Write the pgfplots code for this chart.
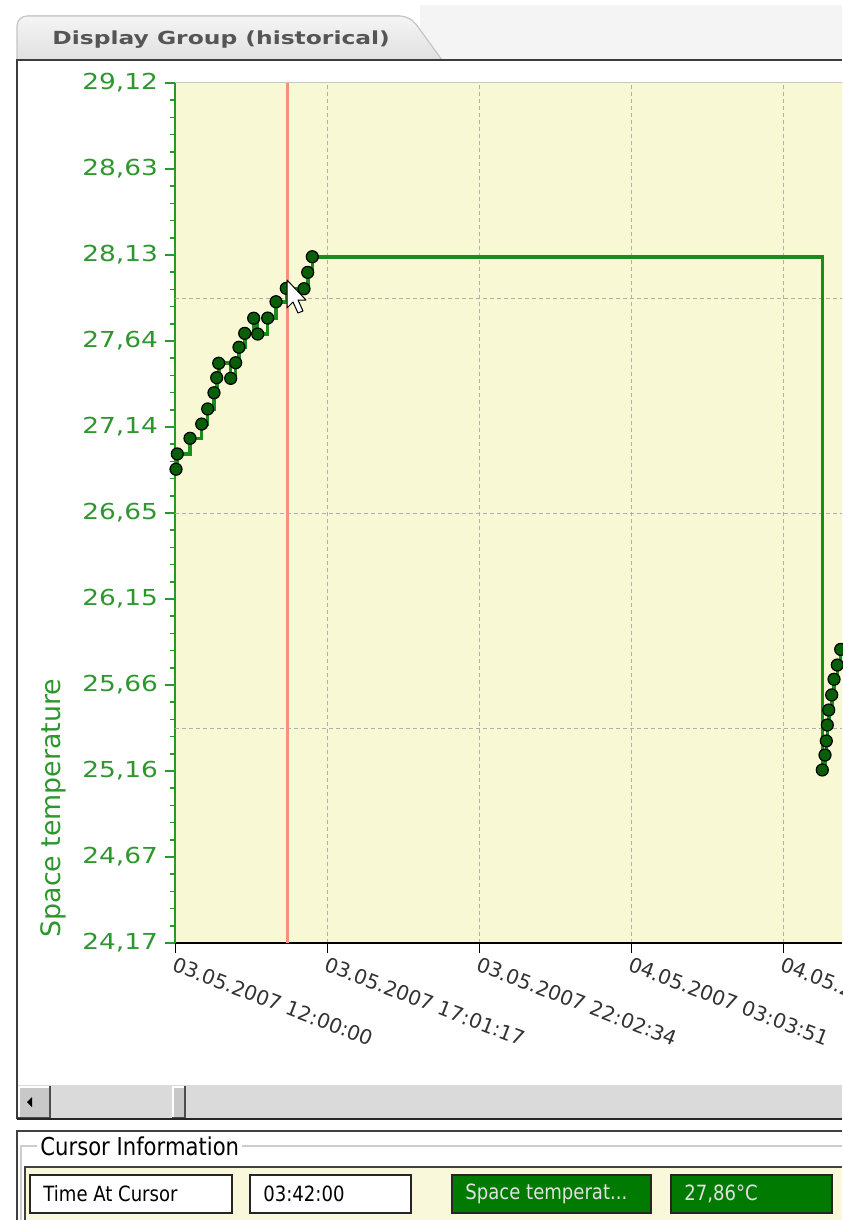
\documentclass[border=0pt]{standalone}
\usepackage{pgfplots}
\pgfplotsset{compat=1.18}
\usepackage{pgfplotstable}
\usepackage{fontspec}
\setmainfont{DejaVu Sans}
\newfontfamily\vfont{DejaVu Sans}[FakeStretch=1.2]
\newfontfamily\tabfont{DejaVu Sans}[FakeStretch=1.3]
\newfontfamily\tfont{DejaVu Sans}[FakeStretch=0.86]
\definecolor{plotbg}{RGB}{249,248,212}
\definecolor{axgreen}{RGB}{45,150,45}
\definecolor{linegreen}{RGB}{28,140,28}
\definecolor{markgreen}{RGB}{8,95,8}
\definecolor{cursorred}{RGB}{245,145,120}
\definecolor{gridgray}{RGB}{175,175,175}
\definecolor{tickgray}{RGB}{50,50,50}
\definecolor{tabtext}{RGB}{85,85,85}
\definecolor{topgray}{RGB}{244,244,244}
\definecolor{panelline}{RGB}{60,60,60}
\definecolor{scrollbg}{RGB}{218,218,218}
\definecolor{btngray}{RGB}{200,200,200}
\definecolor{boxgreen}{RGB}{0,122,0}
\definecolor{boxtext}{RGB}{225,225,225}
\definecolor{innerbg}{RGB}{249,248,218}

\pgfplotstableread{
x y
0.033 26.897
0.076 26.985
0.496 27.075
0.882 27.157
1.080 27.244
1.288 27.337
1.378 27.424
1.444 27.507
1.840 27.420
2.005 27.510
2.114 27.599
2.303 27.679
2.600 27.766
2.732 27.675
3.062 27.767
3.337 27.861
3.677 27.938
4.262 27.936
4.384 28.030
4.536 28.120
21.384 25.166
21.473 25.252
21.516 25.333
21.550 25.425
21.596 25.511
21.695 25.598
21.771 25.688
21.880 25.770
21.992 25.860
}\temps

\begin{document}
\begin{tikzpicture}
\useasboundingbox (0,0) rectangle (421pt,-610pt);
\begin{scope}[x=0.5pt,y=-0.5pt]
  \fill[white] (0,0) rectangle (842,1220);
  \fill[topgray] (420,5) rectangle (842,59);
  \filldraw[top color=white!96!black, bottom color=white!88!black, draw=gray!45, line width=0.6pt]
    [rounded corners=5pt] (17,60) -- (17,16) -- (410,16) [sharp corners] -- (442,60) -- cycle;
  \node[anchor=west, text=tabtext, font=\tabfont\bfseries\fontsize{9}{10}\selectfont, inner sep=0pt] at (52,40) {Display Group (historical)};
  % panel
  \fill[white] (18,61) rectangle (842,1085);
  \draw[panelline, line width=1.1pt] (17,1119) -- (17,60) -- (842,60);
  % scrollbar
  \fill[scrollbg] (18,1085) rectangle (842,1118);
  \fill[btngray] (18,1086) rectangle (50,1118);
  \draw[white, line width=0.6pt] (19,1117) -- (19,1087) -- (49,1087);
  \draw[black!70, line width=0.8pt] (18,1118) -- (50,1118) -- (50,1086);
  \fill[black] (27,1102) -- (32,1097) -- (32,1107) -- cycle;
  \fill[btngray] (172,1086) rectangle (185,1118);
  \draw[white, line width=0.6pt] (173,1117) -- (173,1087) -- (184,1087);
  \draw[black!70, line width=0.8pt] (172,1118) -- (185,1118) -- (185,1086);
  \draw[black!85, line width=1pt] (17,1119) -- (842,1119);
  % cursor information
  \draw[black!75, line width=1pt] (17,1220) -- (17,1131) -- (842,1131);
  \draw[gray!40, line width=0.6pt] (21,1220) -- (21,1146) -- (842,1146);
  \node[fill=white, anchor=west, inner sep=1.5pt, font=\tfont\fontsize{12.3}{13}\selectfont] at (37,1146) {Cursor Information};
  \fill[innerbg] (25,1167) rectangle (842,1220);
  \draw[black!75, line width=0.8pt] (25,1220) -- (25,1167) -- (842,1167);
  \filldraw[fill=white, draw=black!85, line width=0.8pt] (30,1175) rectangle (232,1213);
  \node[anchor=west, inner sep=0pt, font=\tfont\fontsize{10.5}{12}\selectfont] at (43,1194) {Time At Cursor};
  \filldraw[fill=white, draw=black!85, line width=0.8pt] (250,1175) rectangle (411,1213);
  \node[anchor=west, inner sep=0pt, font=\tfont\fontsize{10.5}{12}\selectfont] at (263,1194) {03:42:00};
  \filldraw[fill=boxgreen, draw=black!85, line width=0.8pt] (452,1175) rectangle (651,1213);
  \node[anchor=west, inner sep=0pt, text=boxtext, font=\tfont\fontsize{10.5}{12}\selectfont] at (465,1194) {Space temperat...};
  \filldraw[fill=boxgreen, draw=black!85, line width=0.8pt] (671,1175) rectangle (832,1213);
  \node[anchor=west, inner sep=0pt, text=boxtext, font=\tfont\fontsize{10.5}{12}\selectfont] at (684,1194) {27,86°C};
\end{scope}

\begin{axis}[
  at={(87.5pt,-471.5pt)}, anchor=south west,
  scale only axis, width=333.5pt, height=430pt,
  xmin=0, xmax=22.035, ymin=24.17, ymax=29.12,
  axis x line*=bottom, axis y line*=left,
  x axis line style={-, black, line width=0.7pt},
  y axis line style={-, axgreen, line width=1pt},
  axis background/.style={fill=plotbg},
  xtick={0,5.02139,10.04278,15.06417,20.08556},
  xticklabels={03.05.2007 12:00:00,03.05.2007 17:01:17,03.05.2007 22:02:34,04.05.2007 03:03:51,04.05.2007 08:05:08},
  ytick={24.17,24.665,25.16,25.655,26.15,26.645,27.14,27.635,28.13,28.625,29.12},
  yticklabels={{24,17},{24,67},{25,16},{25,66},{26,15},{26,65},{27,14},{27,64},{28,13},{28,63},{29,12}},
  minor y tick num=4,
  tick align=outside,
  major tick length=5pt, minor tick length=2.5pt,
  x tick style={black, line width=0.5pt},
  y tick style={axgreen, line width=0.8pt},
  xmajorgrids,
  grid style={gridgray, dash pattern=on 2pt off 1.5pt, line width=0.5pt},
  extra y ticks={25.4075,26.645,27.8825},
  extra y tick labels={},
  extra y tick style={grid=major, major tick length=0pt},
  yticklabel style={font=\vfont\fontsize{11}{11}\selectfont, text=axgreen},
  xticklabel style={font=\fontsize{10.1}{10}\selectfont, text=tickgray, rotate=-21, anchor=north west, inner sep=1pt},
  ylabel={Space temperature},
  ylabel style={at={(axis description cs:-0.183,0.157)}, anchor=center, font=\fontsize{13.4}{14}\selectfont, text=axgreen},
]
\addplot[cursorred, line width=1.5pt, forget plot] coordinates {(3.733,24.17) (3.733,29.12)};
\addplot[const plot, linegreen, line width=1.8pt, mark=*, mark size=3pt,
  mark options={fill=markgreen, draw=black, line width=0.6pt, solid}] table[x=x, y=y] {\temps};
\end{axis}

\begin{scope}[x=0.5pt,y=-0.5pt]
  \draw[gray!45, line width=0.8pt] (175,82.5) -- (842,82.5);
  \filldraw[fill=white, draw=black, line width=0.5pt, line join=round]
    (287,280) -- (287,308) -- (293,302) -- (298,313) -- (303,311) -- (298,300) -- (306,300) -- cycle;
\end{scope}
\end{tikzpicture}
\end{document}
